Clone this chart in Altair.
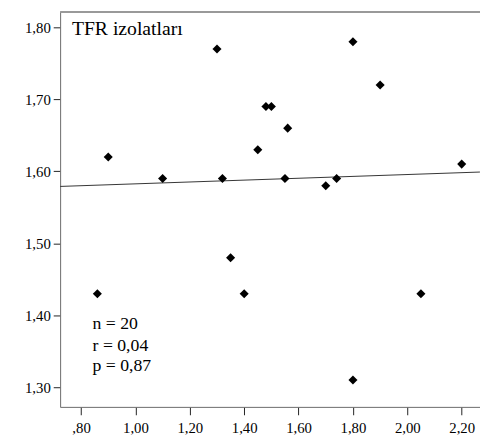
import altair as alt
import pandas as pd

# Scatter data (x, y)
xs = [0.86, 0.90, 1.10, 1.30, 1.32, 1.35, 1.40, 1.45, 1.48, 1.50,
      1.55, 1.56, 1.70, 1.74, 1.80, 1.80, 1.90, 2.05, 2.20]
ys = [1.43, 1.62, 1.59, 1.77, 1.59, 1.48, 1.43, 1.63, 1.69, 1.69,
      1.59, 1.66, 1.58, 1.59, 1.78, 1.31, 1.72, 1.43, 1.61]

# Fit line end points
fit_x = [0.723, 2.267]
fit_y = [1.579, 1.599]

x_ticks = [0.8, 1.0, 1.2, 1.4, 1.6, 1.8, 2.0, 2.2]
y_ticks = [1.3, 1.4, 1.5, 1.6, 1.7, 1.8]

title_text = "TFR izolatları"
stats_lines = ["n = 20", "r = 0,04", "p = 0,87"]
stats_baselines = [322.7, 344.7, 365.3]

W, H = 427, 402
FONT = "Liberation Serif, Times New Roman, serif"

pts = pd.DataFrame({"x": xs, "y": ys})
fit = pd.DataFrame({"x": fit_x, "y": fit_y})

xscale = alt.Scale(domain=[0.723, 2.2673], nice=False, zero=False)
yscale = alt.Scale(domain=[1.2727, 1.8219], nice=False, zero=False)

lab = ("datum.value < 1 ? ',' + substring(format(datum.value, '.2f'), 2) "
       ": replace(format(datum.value, '.2f'), '.', ',')")

xaxis = alt.Axis(values=x_ticks, labelExpr=lab, grid=False, title=None,
                 domainColor="#707070", tickColor="#222222", tickSize=8,
                 labelFont=FONT, labelFontSize=15, labelFontWeight="normal",
                 labelColor="#000000", labelPadding=6, labelFlush=False)
yaxis = alt.Axis(values=y_ticks, labelExpr=lab, grid=False, title=None,
                 domainColor="#707070", tickColor="#222222", tickSize=7,
                 labelFont=FONT, labelFontSize=15, labelFontWeight="normal",
                 labelColor="#000000", labelPadding=3, labelBaseline="middle")

line = alt.Chart(fit).mark_line(color="#333333", strokeWidth=1, clip=True).encode(
    x=alt.X("x:Q", scale=xscale, axis=xaxis),
    y=alt.Y("y:Q", scale=yscale, axis=yaxis),
)

points = alt.Chart(pts).mark_point(shape="diamond", filled=True, size=85,
                                   color="black", opacity=1).encode(
    x=alt.X("x:Q", scale=xscale, axis=xaxis),
    y=alt.Y("y:Q", scale=yscale, axis=yaxis),
)

top = alt.Chart(pd.DataFrame({"a": [0]})).mark_rule(color="#999999", strokeWidth=2).encode(
    x=alt.value(0), x2=alt.value(W), y=alt.value(0.5)
)

title = alt.Chart(pd.DataFrame({"t": [title_text]})).mark_text(
    font=FONT, fontSize=20, align="left", baseline="alphabetic", color="black"
).encode(x=alt.value(12), y=alt.value(24), text="t:N")

stat_layers = [
    alt.Chart(pd.DataFrame({"t": [s]})).mark_text(
        font=FONT, fontSize=18, align="left", baseline="alphabetic", color="black"
    ).encode(x=alt.value(33), y=alt.value(b), text="t:N")
    for s, b in zip(stats_lines, stats_baselines)
]

chart = alt.layer(line, points, top, title, *stat_layers).properties(
    width=W, height=H,
    autosize=alt.AutoSizeParams(type="none"),
    padding={"left": 53, "top": 0, "right": 0, "bottom": 30},
).configure_view(stroke=None).configure(background="white")

chart.save("out.html", embed_options={"renderer": "svg", "actions": False})
